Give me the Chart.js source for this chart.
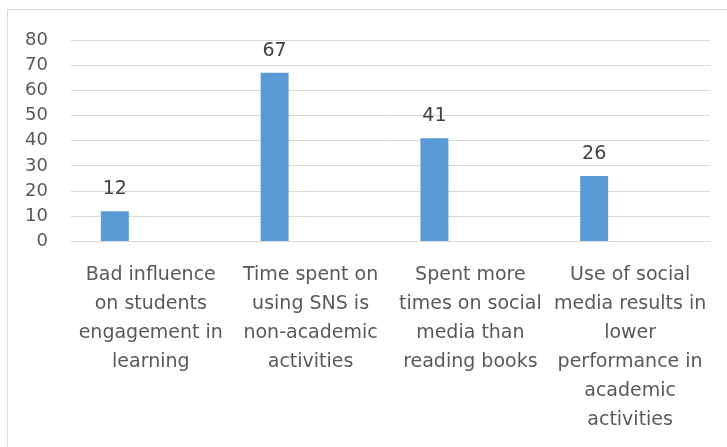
<!DOCTYPE html>
<html>
<head>
<meta charset="utf-8">
<script src="https://cdn.jsdelivr.net/npm/chart.js@4.4.1/dist/chart.umd.min.js"></script>
<style>
  html, body { margin: 0; padding: 0; background: #ffffff; overflow: hidden; width: 727px; height: 447px; }
  #frame { position: absolute; left: 7px; top: 9px; width: 760px; height: 480px; border: 1px solid #d9d9d9; box-sizing: border-box; }
  #c { position: absolute; left: 0; top: 0; }
</style>
</head>
<body>
<div id="frame"></div>
<canvas id="c" width="727" height="447"></canvas>
<script>
const categories = [
  ["Bad influence", "on students", "engagement in", "learning"],
  ["Time spent on", "using SNS is", "non-academic", "activities"],
  ["Spent more", "times on social", "media than", "reading books"],
  ["Use of social", "media results in", "lower", "performance in", "academic", "activities"]
];
const values = [12, 67, 41, 26];
const series2 = [null, null, null, null];
const yMin = 0, yMax = 80, yStep = 10;

const FONT = "'DejaVu Sans', 'Liberation Sans', sans-serif";

const valueLabels = {
  id: 'valueLabels',
  afterDatasetsDraw(chart) {
    const ctx = chart.ctx;
    const meta = chart.getDatasetMeta(0);
    ctx.save();
    ctx.font = "19px " + FONT;
    ctx.fillStyle = "#404040";
    ctx.textAlign = "center";
    ctx.textBaseline = "alphabetic";
    meta.data.forEach((bar, i) => {
      const v = chart.data.datasets[0].data[i];
      if (v == null) return;
      ctx.fillText(String(v), bar.x, bar.y - 17);
    });
    ctx.restore();
  }
};

new Chart(document.getElementById('c'), {
  type: 'bar',
  data: {
    labels: categories,
    datasets: [
      { data: values, backgroundColor: '#5b9bd5', borderWidth: 0, categoryPercentage: 0.9, barPercentage: 0.389 },
      { data: series2, backgroundColor: '#ed7d31', borderWidth: 0, categoryPercentage: 0.9, barPercentage: 0.389 }
    ]
  },
  options: {
    responsive: false,
    devicePixelRatio: 1,
    animation: false,
    layout: { padding: { left: 2, right: 14, top: 40, bottom: 4 } },
    plugins: { legend: { display: false }, tooltip: { enabled: false } },
    scales: {
      x: {
        grid: { display: false, drawTicks: false },
        border: { display: false },
        ticks: {
          color: '#595959',
          font: { family: FONT, size: 19, lineHeight: 29 / 19 },
          padding: 19,
          maxRotation: 0,
          minRotation: 0,
          autoSkip: false
        }
      },
      y: {
        min: yMin,
        max: yMax,
        grid: { color: '#d9d9d9', lineWidth: 1, drawTicks: false },
        border: { display: false },
        ticks: {
          stepSize: yStep,
          color: '#595959',
          font: { family: FONT, size: 18 },
          padding: 23
        }
      }
    }
  },
  plugins: [valueLabels]
});
</script>
</body>
</html>
